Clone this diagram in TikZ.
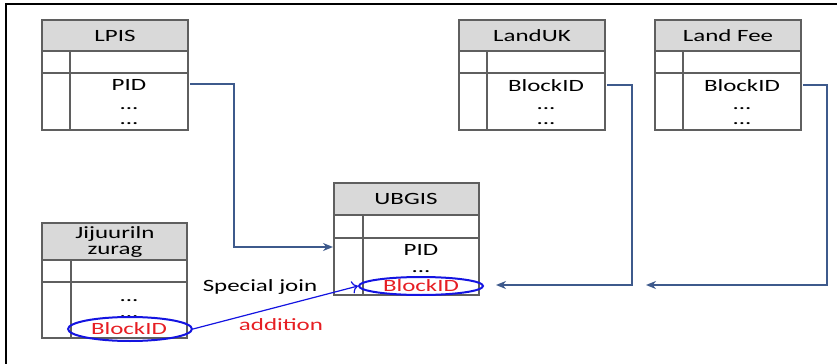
\documentclass[tikz,border=0pt]{standalone}
\usepackage{fontspec}
\setmainfont{Carlito}[FakeStretch=1.45]
\usetikzlibrary{arrows.meta,shapes.geometric}

\definecolor{linkblue}{RGB}{62,90,140}
\definecolor{ringblue}{RGB}{20,20,225}
\definecolor{keyred}{RGB}{230,30,35}
\definecolor{headgray}{RGB}{217,217,217}
\definecolor{rulegray}{RGB}{95,95,95}

\begin{document}
\begin{tikzpicture}[x=0.5pt, y=-0.5pt,
        font=\fontsize{8.6}{10}\selectfont,
        every node/.style={inner sep=1pt},
        cell/.style={draw=rulegray, line width=0.6pt},
        head/.style={cell, fill=headgray},
        ring/.style={draw=ringblue, line width=1pt, ellipse, inner sep=0pt, minimum width=62pt},
        keytext/.style={text=keyred},
        link/.style={draw=linkblue, line width=1pt, -{Stealth[length=5pt,width=4pt]}},
        addlink/.style={draw=ringblue, line width=0.6pt, -{To[length=3pt]}}]
        \useasboundingbox (0,0) rectangle (837,364);

        % Frame
        \draw[line width=1pt] (837,4) -- (6,4) -- (6,364);

        \begin{scope}
            % LPIS
            \draw[head] (42,20) rectangle (188,51);
            \draw[cell] (42,51) rectangle (188,130);
            \draw[cell] (42,73) -- (188,73);
            \draw[cell] (70,51) -- (70,130);
            \node (lpis) at (115,36) {LPIS};
            \node (lpispid) at (129,85) {PID};
            \node (lpisdots) at (129,109) {...};
            \node (lpisdotsb) at (129,124) {...};
        \end{scope}

        \begin{scope}
            % LandUK
            \draw[head] (459,20) rectangle (605,51);
            \draw[cell] (459,51) rectangle (605,130);
            \draw[cell] (459,73) -- (605,73);
            \draw[cell] (487,51) -- (487,130);
            \node (landuk) at (532,36) {LandUK};
            \node (landukblock) at (546,86) {BlockID};
            \node (landukdots) at (546,109) {...};
            \node (landukdotsb) at (546,124) {...};
        \end{scope}

        \begin{scope}
            % Land Fee
            \draw[head] (655,20) rectangle (801,51);
            \draw[cell] (655,51) rectangle (801,130);
            \draw[cell] (655,73) -- (801,73);
            \draw[cell] (683,51) -- (683,130);
            \node (landfee) at (728,36) {Land Fee};
            \node (landfeeblock) at (742,86) {BlockID};
            \node (landfeedots) at (742,109) {...};
            \node (landfeedotsb) at (742,124) {...};
        \end{scope}

        \begin{scope}
            % UBGIS
            \draw[head] (334,183) rectangle (479,215);
            \draw[cell] (334,215) rectangle (479,295);
            \draw[cell] (334,238) -- (479,238);
            \draw[cell] (363,215) -- (363,295);
            \node (ubgis) at (406,199) {UBGIS};
            \node (ubgispid) at (421,250) {PID};
            \node (ubgisdots) at (421,272) {...};
            \node[ring, minimum height=9pt] (ubgisring) at (421,286) {};
            \node[keytext] (ubgisblock) at (421,286) {BlockID};
        \end{scope}

        \begin{scope}
            % Jijuuriln zurag
            \draw[head] (42,223) rectangle (187,260);
            \draw[cell] (42,260) rectangle (187,338);
            \draw[cell] (42,282) -- (187,282);
            \draw[cell] (71,260) -- (71,338);
            \node[align=center, inner sep=0pt, font=\fontsize{8.6}{7.6}\selectfont] (jij) at (115,242) {Jijuuriln\\zurag};
            \node (jijdots) at (129,301) {...};
            \node (jijdotsb) at (129,317) {...};
            \node[ring, minimum height=12pt] (jijring) at (130,329) {};
            \node[keytext] (jijblock) at (129,329) {BlockID};
        \end{scope}

        % Labels
        \node (special) at (260,287) {Special join};
        \node[keytext] (addition) at (281,325) {addition};

        % Connect Tables
        \coordinate (lpisout) at (190,84);
        \coordinate (ubgisleft) at (333,247);
        \draw[link] (lpisout) -- (234,84) |- (ubgisleft);

        \coordinate (landukout) at (607,85);
        \coordinate (ubgisright) at (496,285);
        \draw[link] (landukout) -- (632,85) |- (ubgisright);

        \coordinate (landfeeout) at (803,85);
        \coordinate (landukback) at (646,285);
        \draw[link] (landfeeout) -- (827,85) |- (landukback);

        \draw[addlink] (jijring.east) -- (ubgisring.west);
    \end{tikzpicture}
\end{document}
